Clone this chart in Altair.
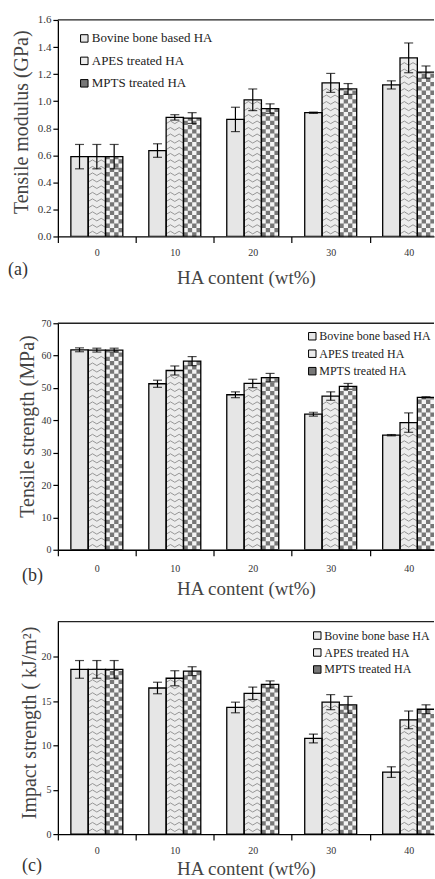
import json

import altair as alt
import pandas as pd

SERIF = "Liberation Serif"

ha_content = [0, 10, 20, 30, 40]
fillers = ["Bovine bone based HA", "APES treated HA", "MPTS treated HA"]
filler_fills = ["#e6e6e6", "#ececec", "#777777"]
CHECK_LIGHT = "#f4f4f4"
WAVE_COLOR = "#8c8c8c"

# (a) tensile modulus, GPa
modulus_bovine = [0.59, 0.635, 0.865, 0.915, 1.12]
modulus_bovine_err = [0.09, 0.05, 0.09, 0.005, 0.03]
modulus_apes = [0.59, 0.88, 1.01, 1.135, 1.32]
modulus_apes_err = [0.09, 0.02, 0.08, 0.07, 0.11]
modulus_mpts = [0.59, 0.875, 0.945, 1.09, 1.215]
modulus_mpts_err = [0.09, 0.04, 0.035, 0.04, 0.045]

# (b) tensile strength, MPa
strength_bovine = [61.8, 51.3, 47.9, 41.9, 35.4]
strength_bovine_err = [0.6, 1.1, 0.9, 0.6, 0.2]
strength_apes = [61.7, 55.4, 51.4, 47.5, 39.3]
strength_apes_err = [0.6, 1.4, 1.3, 1.3, 3.0]
strength_mpts = [61.7, 58.3, 53.2, 50.5, 47.1]
strength_mpts_err = [0.6, 1.4, 1.3, 0.9, 0.2]

# (c) impact strength, kJ/m2
impact_bovine = [18.6, 16.5, 14.3, 10.8, 7.0]
impact_bovine_err = [1.0, 0.65, 0.6, 0.5, 0.6]
impact_apes = [18.6, 17.6, 15.9, 14.9, 12.9]
impact_apes_err = [1.0, 0.85, 0.7, 0.85, 1.0]
impact_mpts = [18.6, 18.4, 16.9, 14.6, 14.1]
impact_mpts_err = [1.0, 0.5, 0.4, 0.95, 0.5]

NB = "\u00a0"
PLOT_W = 377
X_DOMAIN = [-5, 43.25]          # each HA group spans 10 wt% of axis
GROUP_W = 20 / 3                # three adjacent bars per group
BAR_W = GROUP_W / 3
CHECK_COLS = 4                  # checkerboard squares across one bar
CHECK_PX = 4.3                  # checkerboard square height in pixels
WAVE_PX = 6.5                   # vertical spacing of the zigzag hatching
WAVE_AMP_PX = 2.6               # zigzag amplitude
WAVE_SEGS = 4                   # zigzag segments across one bar
FILLER_LIST = json.dumps(fillers)


def frame(bovine, bovine_err, apes, apes_err, mpts, mpts_err):
    rows = []
    for name, vals, errs in zip(fillers, [bovine, apes, mpts], [bovine_err, apes_err, mpts_err]):
        for ha, v, e in zip(ha_content, vals, errs):
            rows.append({"ha": ha, "filler": name, "value": v, "err": e})
    return pd.DataFrame(rows)


def panel(df, *, tag, y_title, y_domain, y_ticks, y_format, y_label_size, height,
          title_x, title_y, label_pad, x_title_y, tag_x, tag_y,
          legend_x, legend_y, legend_font, legend_gap, legend_labels):
    x_scale = alt.Scale(domain=X_DOMAIN, nice=False, zero=False)
    half_step = PLOT_W / (X_DOMAIN[1] - X_DOMAIN[0]) * 5
    x_axis = alt.Axis(values=ha_content, format="d", tickOffset=-half_step,
                      labelOffset=half_step, tickSize=6, labelPadding=label_pad,
                      labelFont=SERIF, labelFontSize=10, titleFont=SERIF,
                      titleFontSize=19, titleY=x_title_y, titleBaseline="middle",
                      labelFlush=False, labelOverlap=False)
    x_title = "HA content (wt%)"
    label_expr = (json.dumps(legend_labels, ensure_ascii=False)
                  + "[indexof(" + FILLER_LIST + ", datum.label)]")
    fill = alt.Fill(
        "filler:N", sort=fillers,
        scale=alt.Scale(domain=fillers, range=filler_fills),
        legend=alt.Legend(title=None, orient="none", legendX=legend_x, legendY=legend_y,
                          symbolType="square", symbolSize=56, symbolStrokeColor="black",
                          symbolStrokeWidth=1, labelFont=SERIF, labelFontSize=legend_font,
                          labelColor="#222", labelOffset=1, rowPadding=legend_gap,
                          padding=0, labelExpr=label_expr, labelLimit=400),
    )
    y_scale = alt.Scale(domain=y_domain, nice=False, zero=True)
    y_axis = alt.Axis(values=y_ticks, format=y_format, tickSize=5, labelPadding=2,
                      labelFont=SERIF, labelFontSize=y_label_size, titleFont=SERIF,
                      titleFontSize=20, titleX=title_x, titleY=title_y,
                      titleBaseline="middle", labelOverlap=False, labelFlush=False)

    def xq(field):
        return alt.X(field, title=x_title, scale=x_scale, axis=x_axis)

    def yq(field):
        return alt.Y(field, title=y_title, scale=y_scale, axis=y_axis)

    px = (y_domain[1] - y_domain[0]) / height      # data units per pixel

    base = alt.Chart(df).transform_calculate(
        k=f"indexof({FILLER_LIST}, datum.filler)"
    ).transform_calculate(
        x0=f"datum.ha - {GROUP_W / 2} + datum.k * {BAR_W}",
    ).transform_calculate(
        x1=f"datum.x0 + {BAR_W}",
        xc=f"datum.x0 + {BAR_W / 2}",
        lo="datum.value - datum.err",
        hi="datum.value + datum.err",
        zero="0",
    )
    bars = base.mark_bar(strokeWidth=0, clip=True).encode(
        x=xq("x0:Q"), x2="x1:Q", y=yq("value:Q"), y2="zero:Q", fill=fill
    )

    # zigzag hatching on the APES bars
    wave_h = WAVE_PX * px
    amp_h = WAVE_AMP_PX * px
    waves = base.transform_filter(
        f"datum.filler == '{fillers[1]}'"
    ).transform_calculate(
        rows=f"sequence(0, floor((datum.value - {amp_h}) / {wave_h} - 0.4) + 1)",
    ).transform_flatten(["rows"], as_=["row"]).transform_calculate(
        pts=f"sequence(0, {WAVE_SEGS + 1})",
        lid="datum.ha + '_' + datum.row",
    ).transform_flatten(["pts"], as_=["j"]).transform_calculate(
        zx=f"datum.x0 + datum.j * {BAR_W / WAVE_SEGS}",
        zy=f"(datum.row + 0.4) * {wave_h} + (datum.j % 2) * {amp_h}",
    ).mark_line(color=WAVE_COLOR, strokeWidth=0.9, clip=True).encode(
        x=xq("zx:Q"), y=yq("zy:Q"), detail="lid:N", order="j:Q"
    )

    # light squares of the checkerboard texture on the MPTS bars
    cell_h = CHECK_PX * px
    cell_w = BAR_W / CHECK_COLS
    checks = base.transform_filter(
        f"datum.filler == '{fillers[2]}'"
    ).transform_calculate(
        rows=f"sequence(0, ceil(datum.value / {cell_h}))",
    ).transform_flatten(["rows"], as_=["row"]).transform_calculate(
        cols=f"sequence(0, {CHECK_COLS})",
    ).transform_flatten(["cols"], as_=["col"]).transform_filter(
        "(datum.row + datum.col) % 2 == 1"
    ).transform_calculate(
        cx0=f"datum.x0 + datum.col * {cell_w}",
        cx1=f"datum.x0 + (datum.col + 1) * {cell_w}",
        cy0=f"datum.row * {cell_h}",
        cy1=f"min(datum.value, (datum.row + 1) * {cell_h})",
    ).mark_rect(color=CHECK_LIGHT, strokeWidth=0, clip=True).encode(
        x=xq("cx0:Q"), x2="cx1:Q", y=yq("cy0:Q"), y2="cy1:Q"
    )
    outline = base.mark_bar(fillOpacity=0, stroke="black", strokeWidth=1.3, clip=True).encode(
        x=xq("x0:Q"), x2="x1:Q", y=yq("value:Q"), y2="zero:Q"
    )
    whisker = base.mark_rule(color="black", strokeWidth=1.2).encode(
        x=xq("xc:Q"), y=yq("lo:Q"), y2="hi:Q"
    )
    cap_lo = base.mark_tick(color="black", thickness=1.2, size=9, orient="horizontal").encode(
        x=xq("xc:Q"), y=yq("lo:Q")
    )
    cap_hi = base.mark_tick(color="black", thickness=1.2, size=9, orient="horizontal").encode(
        x=xq("xc:Q"), y=yq("hi:Q")
    )
    top_border = alt.Chart(alt.Data(values=[{"top": y_domain[1]}])).mark_rule(
        color="#222", strokeWidth=1.3
    ).encode(y=yq("top:Q"))
    label = alt.Chart(alt.Data(values=[{"tag": tag}])).mark_text(
        font=SERIF, fontSize=18, color="#333", align="left", baseline="middle"
    ).encode(text="tag:N", x=alt.value(tag_x), y=alt.value(tag_y))
    return alt.layer(bars, waves, checks, outline, whisker, cap_lo, cap_hi, top_border,
                     label).properties(width=PLOT_W, height=height)


pa = panel(
    frame(modulus_bovine, modulus_bovine_err, modulus_apes, modulus_apes_err,
          modulus_mpts, modulus_mpts_err),
    tag="(a)", y_title="Tensile modulus (GPa)", y_domain=[0, 1.6],
    y_ticks=[0, 0.2, 0.4, 0.6, 0.8, 1.0, 1.2, 1.4, 1.6], y_format=".1f", y_label_size=11,
    height=217, title_x=-36, title_y=102, label_pad=5, x_title_y=41, tag_x=-50, tag_y=251,
    legend_x=20, legend_y=12, legend_font=13, legend_gap=8.5,
    legend_labels=["Bovine bone based HA", NB * 2 + "APES treated HA", NB * 2 + "MPTS treated HA"],
)
pb = panel(
    frame(strength_bovine, strength_bovine_err, strength_apes, strength_apes_err,
          strength_mpts, strength_mpts_err),
    tag="(b)", y_title="Tensile strength (MPa)", y_domain=[0, 70],
    y_ticks=[0, 10, 20, 30, 40, 50, 60, 70], y_format="d", y_label_size=10,
    height=227, title_x=-30, title_y=103, label_pad=8, x_title_y=39, tag_x=-36, tag_y=253,
    legend_x=249, legend_y=7, legend_font=12, legend_gap=5.5,
    legend_labels=["Bovine bone based HA", NB * 2 + "APES treated HA", NB + "MPTS treated HA"],
)
pc = panel(
    frame(impact_bovine, impact_bovine_err, impact_apes, impact_apes_err,
          impact_mpts, impact_mpts_err),
    tag="(c)", y_title="Impact strength ( kJ/m\u00b2)", y_domain=[0, 24],
    y_ticks=[0, 5, 10, 15, 20], y_format="d", y_label_size=10,
    height=213, title_x=-28, title_y=101, label_pad=5, x_title_y=35, tag_x=-36, tag_y=245,
    legend_x=254, legend_y=8, legend_font=12, legend_gap=5,
    legend_labels=["Bovine bone base HA", NB + "APES treated HA", NB * 3 + "MPTS treated HA"],
)

chart = alt.vconcat(
    alt.vconcat(pa, pb, spacing=31).resolve_scale(fill="independent"), pc, spacing=22
).resolve_scale(fill="independent").properties(
    padding={"left": 8, "top": 13, "right": 0, "bottom": 0}
).configure_view(
    strokeWidth=0
).configure_axis(
    domainColor="black", domainWidth=1.3, tickColor="black", tickWidth=1.2,
    labelColor="#333", titleColor="#444", titleFontWeight="normal", grid=False,
)

chart.save("out.html", embed_options={"renderer": "svg", "actions": False})
